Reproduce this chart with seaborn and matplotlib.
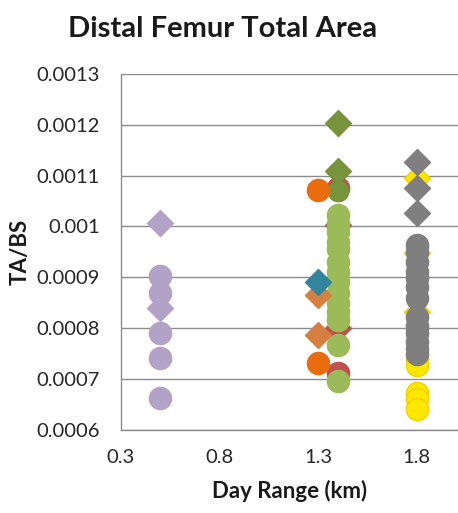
import matplotlib
matplotlib.use("Agg")
import matplotlib.pyplot as plt
import seaborn as sns
import pandas as pd

# Day range (km) groups and TA/BS values per series
purple_circle_x = [0.5, 0.5, 0.5, 0.5, 0.5]
purple_circle_y = [0.000902, 0.000869, 0.000791, 0.000742, 0.000663]
purple_diamond_x = [0.5, 0.5]
purple_diamond_y = [0.001007, 0.000840]

red_circle_x = [1.4, 1.4]
red_circle_y = [0.001075, 0.000712]
red_diamond_x = [1.4, 1.4]
red_diamond_y = [0.001003, 0.000800]

olive_circle_x = [1.4]
olive_circle_y = [0.001070]
olive_diamond_x = [1.4, 1.4]
olive_diamond_y = [0.001204, 0.001109]

green_circle_x = [1.4] * 14
green_circle_y = [0.001023, 0.001005, 0.000990, 0.000970, 0.000955, 0.000930,
                  0.000910, 0.000890, 0.000870, 0.000850, 0.000832, 0.000816,
                  0.000767, 0.000697]

orange_circle_x = [1.3, 1.3]
orange_circle_y = [0.001072, 0.000732]
orange_diamond_x = [1.3, 1.3]
orange_diamond_y = [0.000865, 0.000787]

teal_diamond_x = [1.3]
teal_diamond_y = [0.000891]

yellow_diamond_x = [1.8, 1.8, 1.8]
yellow_diamond_y = [0.001096, 0.000948, 0.000832]
yellow_circle_x = [1.8] * 5
yellow_circle_y = [0.000742, 0.000728, 0.000673, 0.000660, 0.000642]

gray_diamond_x = [1.8, 1.8, 1.8]
gray_diamond_y = [0.001127, 0.001076, 0.001027]
gray_circle_x = [1.8] * 13
gray_circle_y = [0.000964, 0.000950, 0.000930, 0.000910, 0.000898, 0.000880,
                 0.000860, 0.000822, 0.000805, 0.000790, 0.000772, 0.000760,
                 0.000750]

y_ticks = [0.0006, 0.0007, 0.0008, 0.0009, 0.001, 0.0011, 0.0012, 0.0013]
y_tick_labels = ["0.0006", "0.0007", "0.0008", "0.0009", "0.001", "0.0011", "0.0012", "0.0013"]
x_ticks = [0.3, 0.8, 1.3, 1.8]
x_tick_labels = ["0.3", "0.8", "1.3", "1.8"]

sns.set_theme(style="white")
plt.rcParams["font.family"] = ["Lato", "DejaVu Sans"]

fig = plt.figure(figsize=(4.58, 5.13), dpi=100)
ax = fig.add_axes([0.264, 0.162, 0.736, 0.694])

SIZE_O = 255
SIZE_D = 175

layers = [
    (purple_circle_x, purple_circle_y, "o", "#B3A2C7", SIZE_O),
    (purple_diamond_x, purple_diamond_y, "D", "#B3A2C7", SIZE_D),
    (red_circle_x, red_circle_y, "o", "#C0504D", SIZE_O),
    (red_diamond_x, red_diamond_y, "D", "#C0504D", SIZE_D),
    (olive_circle_x, olive_circle_y, "o", "#77933C", SIZE_O * 0.85),
    (green_circle_x, green_circle_y, "o", "#9BBB59", SIZE_O),
    (olive_diamond_x, olive_diamond_y, "D", "#77933C", SIZE_D),
    (orange_circle_x, orange_circle_y, "o", "#E96C0F", SIZE_O),
    (orange_diamond_x, orange_diamond_y, "D", "#D58040", SIZE_D),
    (teal_diamond_x, teal_diamond_y, "D", "#31859C", SIZE_D),
    (yellow_diamond_x, yellow_diamond_y, "D", "#FFE600", SIZE_D),
    (yellow_circle_x, yellow_circle_y, "o", "#FFE800", SIZE_O),
    (gray_circle_x, gray_circle_y, "o", "#7F7F7F", SIZE_O),
    (gray_diamond_x, gray_diamond_y, "D", "#7F7F7F", SIZE_D),
]

for xs, ys, mk, col, sz in layers:
    df = pd.DataFrame({"x": xs, "y": ys})
    edge = "#F2D000" if col.startswith("#FFE") else col
    sns.scatterplot(data=df, x="x", y="y", ax=ax, marker=mk, color=col,
                    s=sz, edgecolor=edge, linewidth=1, legend=False,
                    zorder=3, clip_on=False)

ax.set_xlim(0.3, 2.01)
ax.set_ylim(0.0006, 0.0013)
ax.set_yticks(y_ticks)
ax.set_yticklabels(y_tick_labels)
ax.set_xticks(x_ticks)
ax.set_xticklabels(x_tick_labels)

ax.yaxis.grid(True, color="#8C8C8C", linewidth=1.0)
ax.xaxis.grid(False)
ax.set_axisbelow(True)
for side in ["top", "right"]:
    ax.spines[side].set_visible(False)
for side in ["left", "bottom"]:
    ax.spines[side].set_color("#8C8C8C")
    ax.spines[side].set_linewidth(1.0)

ax.tick_params(axis="y", labelsize=14.5, labelcolor="#262626", length=0, pad=15)
ax.tick_params(axis="x", labelsize=14.5, labelcolor="#262626", length=0, pad=14)

ax.set_xlabel("Day Range (km)", fontsize=16, fontweight="bold", color="#1a1a1a", labelpad=10)
ax.set_ylabel("TA/BS", fontsize=16, fontweight="bold", color="#1a1a1a", labelpad=4)
fig.text(0.485, 0.944, "Distal Femur Total Area", ha="center", va="center",
         fontsize=21, fontweight="bold", color="#1a1a1a")

fig.savefig("out.png", dpi=100, facecolor="white")
